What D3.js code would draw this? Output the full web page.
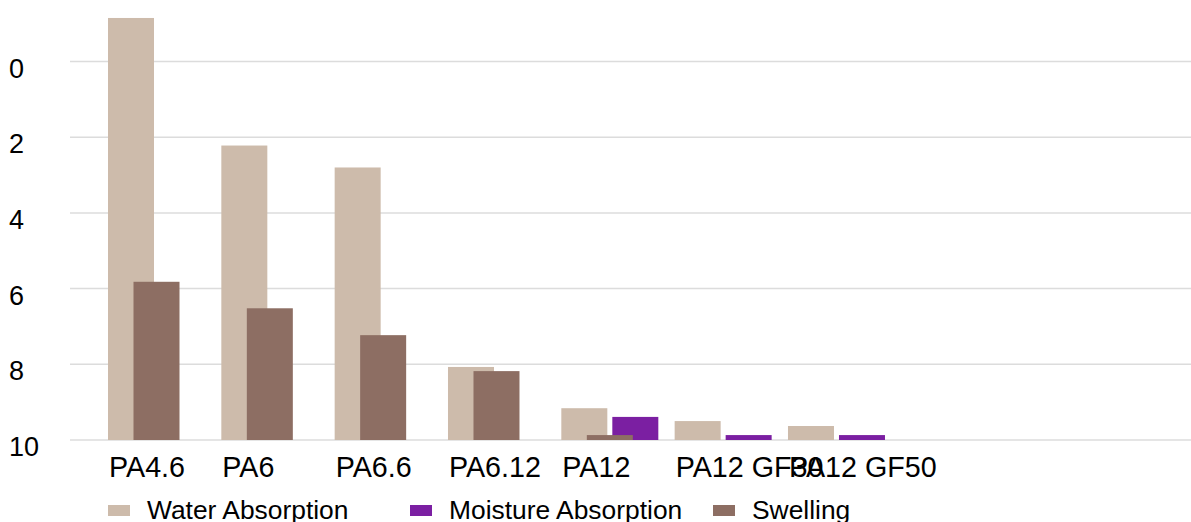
<!DOCTYPE html>
<html>
<head>
<meta charset="utf-8">
<script src="https://cdn.jsdelivr.net/npm/d3@7"></script>
<style>
    body { margin: 0; background: #fff; }
    text { font-family: "Liberation Sans", Arial, sans-serif; fill: #000; }
</style>
</head>
<body>
<div id="chart"></div>
<script>
// data
const categories = ['PA4.6', 'PA6', 'PA6.6', 'PA6.12', 'PA12', 'PA12 GF30', 'PA12 GF50'];
const series = ['Water Absorption', 'Moisture Absorption', 'Swelling'];
const waterAbsorption = [11.15, 7.78, 7.2, 1.93, 0.84, 0.5, 0.37];
const moistureAbsorption = [0, 0, 0, 0, 0.61, 0.13, 0.13];
const swelling = [4.18, 3.48, 2.77, 1.82, 0.13, 0, 0];
const yTicks = [0, 2, 4, 6, 8, 10];

const width = 1191, height = 522;
const plotTop = 61.5, plotBottom = 440;
const gridLeft = 70, gridRight = 1191;
const barWidth = 46;

const colors = d3.scaleOrdinal()
    .domain(series)
    .range(['#cdbbab', '#7b1fa2', '#8d6e63']);
// bar offset inside each category (they overlap in the original)
const offsets = d3.scaleOrdinal()
    .domain(series)
    .range([0, 51, 25.5]);

const svg = d3.select('#chart')
    .append('svg')
    .attr('width', width)
    .attr('height', height);

const x = d3.scaleBand()
    .domain(categories)
    .range([108, 108 + categories.length * 113.33])
    .padding(0);

// bars grow up from the bottom line
const y = d3.scaleLinear()
    .domain([0, 10])
    .range([plotBottom, plotTop]);

// the tick labels run top-down in the source chart
const yLabels = d3.scaleLinear()
    .domain([0, 10])
    .range([plotTop, plotBottom]);

// grid lines
svg.append('g')
    .selectAll('line')
    .data(yTicks)
    .enter()
    .append('line')
    .attr('x1', gridLeft)
    .attr('x2', gridRight)
    .attr('y1', d => yLabels(d))
    .attr('y2', d => yLabels(d))
    .attr('stroke', '#dcdcdc')
    .attr('stroke-width', 1.5);

// y labels
svg.append('g')
    .selectAll('text')
    .data(yTicks)
    .enter()
    .append('text')
    .attr('x', 9)
    .attr('y', d => yLabels(d) + 16)
    .style('font-size', '27px')
    .text(d => d);

const dataReady = [
    { name: 'Water Absorption', values: waterAbsorption },
    { name: 'Moisture Absorption', values: moistureAbsorption },
    { name: 'Swelling', values: swelling },
];

svg.append('g')
    .selectAll('g')
    .data(dataReady)
    .enter()
    .append('g')
    .attr('fill', d => colors(d.name))
    .selectAll('rect')
    .data(d => d.values.map((v, i) => ({ name: d.name, cat: categories[i], value: v })))
    .enter()
    .filter(d => d.value > 0)
    .append('rect')
    .attr('x', d => x(d.cat) + offsets(d.name))
    .attr('y', d => y(d.value))
    .attr('width', barWidth)
    .attr('height', d => y(0) - y(d.value));

// x labels, left aligned to each category
svg.append('g')
    .selectAll('text')
    .data(categories)
    .enter()
    .append('text')
    .attr('x', d => x(d) + 1)
    .attr('y', 477)
    .style('font-size', '28.7px')
    .text(d => d);

// legend
const legendX = [108, 410, 713];
const legend = svg.append('g')
    .selectAll('g')
    .data(series)
    .enter()
    .append('g')
    .attr('transform', (d, i) => 'translate(' + legendX[i] + ',0)');
legend.append('rect')
    .attr('x', 0)
    .attr('y', 505)
    .attr('width', 22)
    .attr('height', 11)
    .attr('fill', d => colors(d));
legend.append('text')
    .attr('x', 39)
    .attr('y', 519)
    .style('font-size', '26.4px')
    .text(d => d);
</script>
</body>
</html>
